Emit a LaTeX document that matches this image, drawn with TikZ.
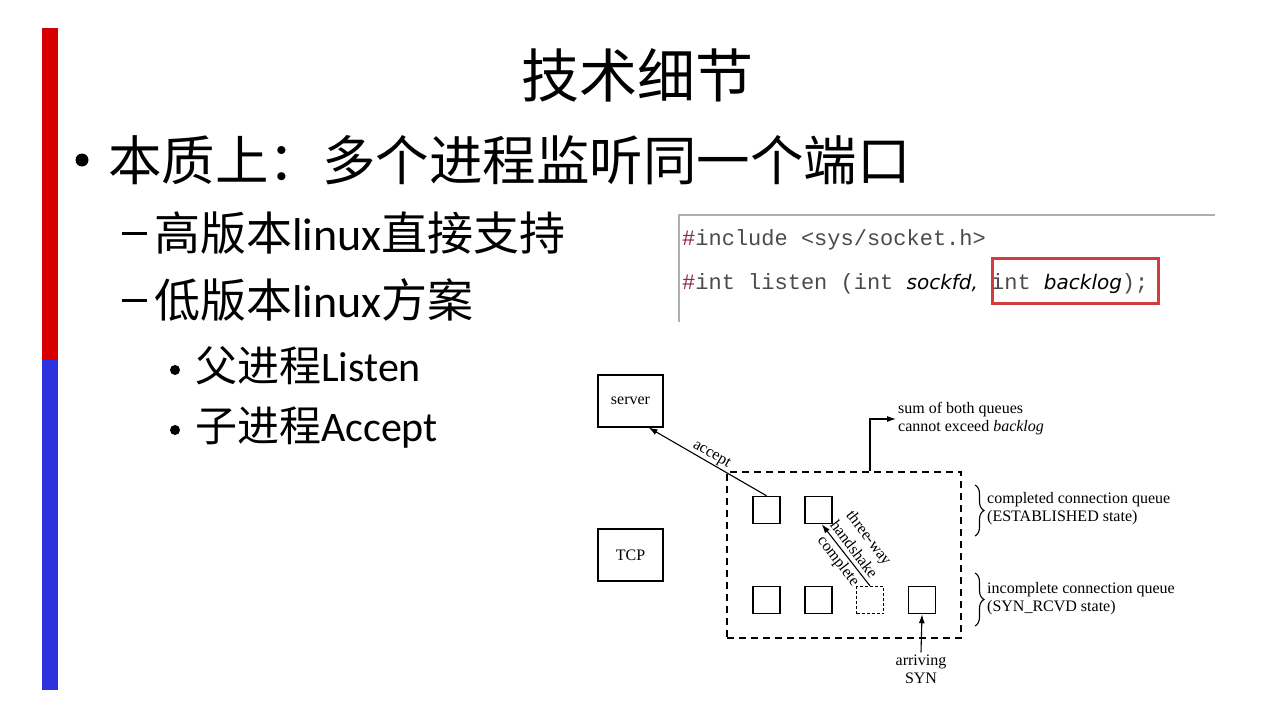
\documentclass[tikz,border=0pt]{standalone}
\usepackage{fontspec}
\setmainfont{Liberation Serif}
\newfontfamily\cjk{Noto Sans CJK SC}
\newfontfamily\lat{Carlito}
\newfontfamily\mono{Liberation Mono}
\newfontfamily\vsans{DejaVu Sans}
\usetikzlibrary{arrows.meta,decorations.pathreplacing,calc}
\definecolor{barred}{RGB}{214,0,0}
\definecolor{barblue}{RGB}{46,50,222}
\definecolor{codegray}{RGB}{75,75,75}
\definecolor{hashred}{RGB}{140,40,60}
\definecolor{boxred}{RGB}{210,60,60}
\definecolor{rulegray}{RGB}{175,175,175}
\newcommand{\slidedash}{\rule[15pt]{25pt}{3.2pt}\hspace{7pt}}
\begin{document}
\begin{tikzpicture}[x=1pt,y=-1pt,
  txt/.style={inner sep=0pt, anchor=base west},
  dtext/.style={font=\fontsize{16}{18}\selectfont},
  bigbox/.style={draw, line width=1.1pt, minimum width=65pt, minimum height=52pt, inner sep=0pt},
  qbox/.style={draw, line width=1.5pt, minimum size=27pt, inner sep=0pt},
  arr/.style={-{Latex[length=9pt,width=6pt]}, line width=1.1pt},
  bracestyle/.style={decorate, decoration={brace, amplitude=9pt}, line width=1.1pt}
]
\useasboundingbox[fill=white] (0,0) rectangle (1280,720);

% side bar
\fill[barred] (42,28) rectangle (58,360);
\fill[barblue] (42,360) rectangle (58,690);

% title
\node[inner sep=0pt, anchor=base] (title) at (637,97) {\fontsize{58}{60}\selectfont\cjk 技术细节};

% bullets
\node[circle, fill, minimum size=13pt, inner sep=0pt] (b1) at (82,160) {};
\node[txt] (l1) at (108,180) {\fontsize{53.5}{60}\selectfont\cjk 本质上：多个进程监听同一个端口};
\node[txt] (l2) at (122,250) {\fontsize{46}{50}\selectfont\slidedash{\cjk 高版本}{\lat linux}{\cjk 直接支持}};
\node[txt] (l3) at (122,317) {\fontsize{46}{50}\selectfont\slidedash{\cjk 低版本}{\lat linux}{\cjk 方案}};
\node[circle, fill, minimum size=10pt, inner sep=0pt] (b4) at (175,370) {};
\node[txt] (l4) at (195,381) {\fontsize{42}{46}\selectfont{\cjk 父进程}{\lat Listen}};
\node[circle, fill, minimum size=10pt, inner sep=0pt] (b5) at (175,430) {};
\node[txt] (l5) at (195,441) {\fontsize{42}{46}\selectfont{\cjk 子进程}{\lat Accept}};

% code snippet
\draw[rulegray, line width=1.8pt] (1215,215) -- (679,215) -- (679,322);
\node[txt, text=codegray] (code1) at (682,245) {\fontsize{22}{24}\selectfont\mono{\color{hashred}\#}include <sys/socket.h>};
\node[txt, text=codegray] (code2) at (682,289) {\fontsize{22}{24}\selectfont\mono{\color{hashred}\#}int listen (int {\fontsize{20}{24}\selectfont\vsans\itshape\color{black}sockfd,} int {\fontsize{20}{24}\selectfont\vsans\itshape\color{black}backlog});};
\node[draw=boxred, line width=3pt, minimum width=166pt, minimum height=45pt, inner sep=0pt] (rb) at (1075,281) {};

% diagram
\node[bigbox, dtext] (server) at (630.5,401) {server};
\node[bigbox, dtext] (tcp) at (630.5,555) {TCP};
\node[draw, dash pattern=on 7pt off 5pt, line width=1.3pt, minimum width=234pt, minimum height=166pt, inner sep=0pt] (queue) at (844,555) {};

\node[qbox] (c1) at (766.5,510) {};
\node[qbox] (c2) at (818.5,510) {};
\node[qbox] (i1) at (766.5,600) {};
\node[qbox] (i2) at (818.5,600) {};
\node[qbox, dash pattern=on 3pt off 2pt, line width=1.2pt] (i3) at (870,600) {};
\node[qbox] (i4) at (922,600) {};

\draw[arr] (c1.north) -- ([xshift=-15pt]server.south east)
  node[midway, sloped, above, dtext, inner sep=1pt] (acc) {accept};

\draw[arr] (i3.north) -- ([xshift=-11pt]c2.south east);
\node[rotate=-52.8, align=center, inner sep=0pt, font=\fontsize{16}{19}\selectfont] (hs) at (853,550) {three-way\\handshake\\complete};

\node[dtext, anchor=west, align=left, inner sep=2pt] (sum) at (896,419) {sum of both queues\\cannot exceed \textit{backlog}};
\draw[arr] (queue.north -| i3.north) |- (sum.west);

\draw[bracestyle] (975,485) -- (975,536);
\node[dtext, anchor=west, align=left, inner sep=0pt] (cq) at (987,509) {completed connection queue\\(ESTABLISHED state)};
\draw[bracestyle] (975,573) -- (975,626);
\node[dtext, anchor=west, align=left, inner sep=0pt] (iq) at (987,599) {incomplete connection queue\\(SYN\_RCVD state)};

\node[dtext, align=center, inner sep=2pt] (syn) at (921,669) {arriving\\SYN};
\draw[arr] (syn.north) -- (i4.south);
\end{tikzpicture}
\end{document}
